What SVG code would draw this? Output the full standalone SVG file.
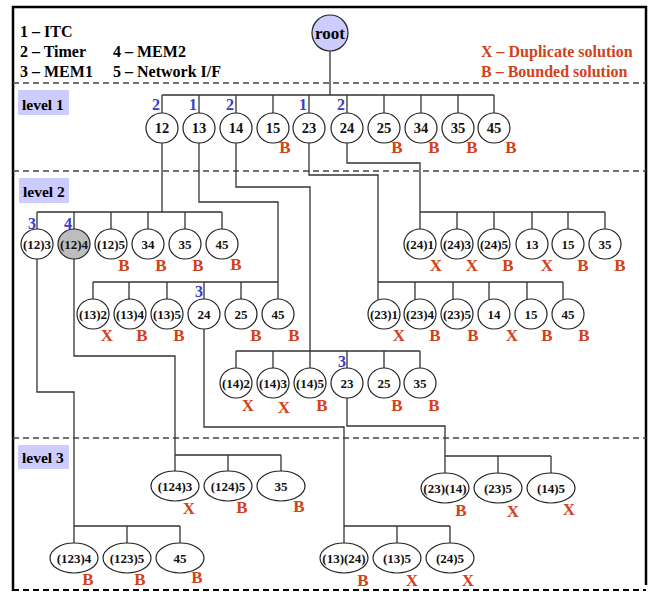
<svg xmlns="http://www.w3.org/2000/svg" width="651" height="592" viewBox="0 0 651 592">
<style>
text{font-family:"Liberation Serif","Times New Roman",serif;font-weight:bold}
.n ellipse{fill:#fff;stroke:#222;stroke-width:1.2}
.n text{font-size:13px;text-anchor:middle;fill:#111}
.n text.s{font-size:13px}
.n text.l{font-size:14.5px}
.n text.b{fill:#3a3ad0;font-size:16px;text-anchor:end}
.n text.t{fill:#d2421a;font-size:17px;text-anchor:middle}
.c path{fill:none;stroke:#333;stroke-width:1.3}
.sep{stroke:#444;stroke-width:1.4;stroke-dasharray:6,4}
.lv rect{fill:#ccccff}
.lv text{font-size:15.5px}
.lg text{font-size:16px}
.lg2 text{font-size:16px;fill:#d2421a}
</style>
<rect width="651" height="592" fill="#fff"/>
<path d="M13,591 V7 H646 V585" fill="none" stroke="#000" stroke-width="2.5"/>
<line class="sep" x1="13" y1="590" x2="646" y2="590" style="stroke:#000;stroke-width:2"/>
<line class="sep" x1="13" y1="83" x2="646" y2="83"/>
<line class="sep" x1="13" y1="171" x2="646" y2="171"/>
<line class="sep" x1="13" y1="438" x2="646" y2="438"/>

<g class="lg">
<text x="20" y="37">1 – ITC</text>
<text x="20" y="57">2 – Timer</text>
<text x="20" y="77">3 – MEM1</text>
<text x="113" y="57">4 – MEM2</text>
<text x="113" y="77">5 – Network I/F</text>
</g>
<g class="lg2">
<text x="481" y="57">X – Duplicate solution</text>
<text x="481" y="77">B – Bounded solution</text>
</g>
<g class="lv" id="level1"><rect x="18" y="90" width="51" height="25"/><text x="22" y="110">level 1</text></g>
<g class="lv" id="level2"><rect x="19" y="178" width="50" height="25"/><text x="23" y="197">level 2</text></g>
<g class="lv" id="level3"><rect x="18" y="445" width="51" height="24"/><text x="22" y="463">level 3</text></g>

<g class="c" id="connectors">
<path d="M330,51 V95 M162,95 H494 M162,95 V113 M199,95 V113 M236,95 V113 M273,95 V113 M309,95 V113 M347,95 V113 M384,95 V113 M421,95 V113 M458,95 V113 M494,95 V113"/>
<path d="M162,143 V212 M37,212 H222 M37,212 V229 M74,212 V229 M111,212 V229 M148,212 V229 M185,212 V229 M222,212 V229"/>
<path d="M199,143 V202 H278 V282 M93,282 H278 M93,282 V299 M129,282 V299 M167,282 V299 M204,282 V299 M241,282 V299 M278,282 V299"/>
<path d="M236,143 V187 H310 V351 M236,351 H420 M236,351 V368 M273,351 V368 M310,351 V368 M347,351 V368 M384,351 V368 M420,351 V368"/>
<path d="M309,143 V175 H378 V282 M378,282 H563 M378,282 V300 M415,282 V300 M453,282 V300 M489,282 V300 M527,282 V300 M563,282 V300"/>
<path d="M347,143 V163 H420 V212 M420,212 H605 M420,212 V229 M457,212 V229 M494,212 V229 M532,212 V229 M568,212 V229 M605,212 V229"/>
<path d="M37,259 V392 H74 V526 M74,526 H180 M74,526 V543 M127,526 V543 M180,526 V543"/>
<path d="M74,259 V356 H175 V455 M175,455 H281 M175,455 V471 M228,455 V471 M281,455 V471"/>
<path d="M204,329 V427 H344 V526 M344,526 H450 M344,526 V543 M397,526 V543 M450,526 V543"/>
<path d="M347,398 V426 H445 V456 M445,456 H551 M445,456 V473 M498,456 V473 M551,456 V473"/>
</g>

<g id="root"><circle cx="330" cy="33" r="18" fill="#ccccff" stroke="#222" stroke-width="1.2"/><text x="330" y="38.5" font-size="17" text-anchor="middle">root</text></g>

<!-- level 1 -->
<g class="n" id="n12"><ellipse cx="162" cy="128" rx="16" ry="15"/><text class="l" x="162" y="133">12</text><text class="b" x="160" y="110">2</text></g>
<g class="n" id="n13"><ellipse cx="199" cy="128" rx="16" ry="15"/><text class="l" x="199" y="133">13</text><text class="b" x="197" y="110">1</text></g>
<g class="n" id="n14"><ellipse cx="236" cy="128" rx="16" ry="15"/><text class="l" x="236" y="133">14</text><text class="b" x="234" y="110">2</text></g>
<g class="n" id="n15"><ellipse cx="273" cy="128" rx="16" ry="15"/><text class="l" x="273" y="133">15</text><text class="t" x="285" y="153">B</text></g>
<g class="n" id="n23"><ellipse cx="309" cy="128" rx="16" ry="15"/><text class="l" x="309" y="133">23</text><text class="b" x="307" y="110">1</text></g>
<g class="n" id="n24"><ellipse cx="347" cy="128" rx="16" ry="15"/><text class="l" x="347" y="133">24</text><text class="b" x="345" y="110">2</text></g>
<g class="n" id="n25"><ellipse cx="384" cy="128" rx="16" ry="15"/><text class="l" x="384" y="133">25</text><text class="t" x="397" y="153">B</text></g>
<g class="n" id="n34"><ellipse cx="421" cy="128" rx="16" ry="15"/><text class="l" x="421" y="133">34</text><text class="t" x="434" y="153">B</text></g>
<g class="n" id="n35"><ellipse cx="458" cy="128" rx="16" ry="15"/><text class="l" x="458" y="133">35</text><text class="t" x="472" y="153">B</text></g>
<g class="n" id="n45"><ellipse cx="494" cy="128" rx="16" ry="15"/><text class="l" x="494" y="133">45</text><text class="t" x="511" y="153">B</text></g>

<!-- level 2 row A -->
<g class="n" id="n12_3"><ellipse cx="37" cy="244" rx="16" ry="15"/><text x="37" y="248.5">(12)3</text><text class="b" x="36" y="229">3</text></g>
<g class="n" id="n12_4"><ellipse cx="74" cy="244" rx="16" ry="15" style="fill:#bdbdbd"/><text x="74" y="248.5">(12)4</text><text class="b" x="72" y="229">4</text></g>
<g class="n" id="n12_5"><ellipse cx="111" cy="244" rx="16" ry="15"/><text x="111" y="248.5">(12)5</text><text class="t" x="124" y="271">B</text></g>
<g class="n" id="n12_34"><ellipse cx="148" cy="244" rx="16" ry="15"/><text x="148" y="248.5">34</text><text class="t" x="161" y="271">B</text></g>
<g class="n" id="n12_35"><ellipse cx="185" cy="244" rx="16" ry="15"/><text x="185" y="248.5">35</text><text class="t" x="198" y="271">B</text></g>
<g class="n" id="n12_45"><ellipse cx="222" cy="244" rx="16" ry="15"/><text x="222" y="248.5">45</text><text class="t" x="236" y="270">B</text></g>

<!-- level 2 row E -->
<g class="n" id="n24_1"><ellipse cx="420" cy="244" rx="16" ry="15"/><text x="420" y="248.5">(24)1</text><text class="t" x="436" y="271">X</text></g>
<g class="n" id="n24_3"><ellipse cx="457" cy="244" rx="16" ry="15"/><text x="457" y="248.5">(24)3</text><text class="t" x="472" y="271">X</text></g>
<g class="n" id="n24_5"><ellipse cx="494" cy="244" rx="16" ry="15"/><text x="494" y="248.5">(24)5</text><text class="t" x="508" y="271">B</text></g>
<g class="n" id="n24_13"><ellipse cx="532" cy="244" rx="16" ry="15"/><text x="532" y="248.5">13</text><text class="t" x="547" y="271">X</text></g>
<g class="n" id="n24_15"><ellipse cx="568" cy="244" rx="16" ry="15"/><text x="568" y="248.5">15</text><text class="t" x="583" y="271">B</text></g>
<g class="n" id="n24_35"><ellipse cx="605" cy="244" rx="16" ry="15"/><text x="605" y="248.5">35</text><text class="t" x="620" y="271">B</text></g>

<!-- level 2 row B -->
<g class="n" id="n13_2"><ellipse cx="93" cy="314" rx="16" ry="15"/><text x="93" y="318.5">(13)2</text><text class="t" x="107" y="341">X</text></g>
<g class="n" id="n13_4"><ellipse cx="130" cy="314" rx="16" ry="15"/><text x="130" y="318.5">(13)4</text><text class="t" x="142" y="341">B</text></g>
<g class="n" id="n13_5"><ellipse cx="167" cy="314" rx="16" ry="15"/><text x="167" y="318.5">(13)5</text><text class="t" x="179" y="341">B</text></g>
<g class="n" id="n13_24"><ellipse cx="204" cy="314" rx="16" ry="15"/><text x="204" y="318.5">24</text><text class="b" x="203" y="297">3</text></g>
<g class="n" id="n13_25"><ellipse cx="241" cy="314" rx="16" ry="15"/><text x="241" y="318.5">25</text><text class="t" x="256" y="341">B</text></g>
<g class="n" id="n13_45"><ellipse cx="278" cy="314" rx="16" ry="15"/><text x="278" y="318.5">45</text><text class="t" x="294" y="341">B</text></g>

<!-- level 2 row D -->
<g class="n" id="n23_1"><ellipse cx="384" cy="314" rx="16" ry="15"/><text x="384" y="318.5">(23)1</text><text class="t" x="399" y="341">X</text></g>
<g class="n" id="n23_4"><ellipse cx="420" cy="314" rx="16" ry="15"/><text x="420" y="318.5">(23)4</text><text class="t" x="435" y="341">B</text></g>
<g class="n" id="n23_5"><ellipse cx="457" cy="314" rx="16" ry="15"/><text x="457" y="318.5">(23)5</text><text class="t" x="473" y="341">B</text></g>
<g class="n" id="n23_14"><ellipse cx="494" cy="314" rx="16" ry="15"/><text x="494" y="318.5">14</text><text class="t" x="512" y="341">X</text></g>
<g class="n" id="n23_15"><ellipse cx="531" cy="314" rx="16" ry="15"/><text x="531" y="318.5">15</text><text class="t" x="547" y="341">B</text></g>
<g class="n" id="n23_45"><ellipse cx="568" cy="314" rx="16" ry="15"/><text x="568" y="318.5">45</text><text class="t" x="584" y="341">B</text></g>

<!-- level 2 row C -->
<g class="n" id="n14_2"><ellipse cx="236" cy="383" rx="16" ry="15"/><text x="236" y="387.5">(14)2</text><text class="t" x="248" y="411">X</text></g>
<g class="n" id="n14_3"><ellipse cx="273" cy="383" rx="16" ry="15"/><text x="273" y="387.5">(14)3</text><text class="t" x="284" y="413">X</text></g>
<g class="n" id="n14_5"><ellipse cx="310" cy="383" rx="16" ry="15"/><text x="310" y="387.5">(14)5</text><text class="t" x="322" y="411">B</text></g>
<g class="n" id="n14_23"><ellipse cx="347" cy="383" rx="16" ry="15"/><text x="347" y="387.5">23</text><text class="b" x="346" y="367">3</text></g>
<g class="n" id="n14_25"><ellipse cx="384" cy="383" rx="16" ry="15"/><text x="384" y="387.5">25</text><text class="t" x="397" y="411">B</text></g>
<g class="n" id="n14_35"><ellipse cx="420" cy="383" rx="16" ry="15"/><text x="420" y="387.5">35</text><text class="t" x="434" y="411">B</text></g>

<!-- level 3 -->
<g class="n" id="n124_3"><ellipse cx="175" cy="486" rx="24" ry="15"/><text class="s" x="175" y="490.5">(124)3</text><text class="t" x="189" y="514">X</text></g>
<g class="n" id="n124_5"><ellipse cx="228" cy="486" rx="24" ry="15"/><text class="s" x="228" y="490.5">(124)5</text><text class="t" x="242" y="513">B</text></g>
<g class="n" id="n124_35"><ellipse cx="281" cy="486" rx="24" ry="15"/><text class="s" x="281" y="490.5">35</text><text class="t" x="299" y="512">B</text></g>

<g class="n" id="n123_4"><ellipse cx="74" cy="558" rx="24" ry="15"/><text class="s" x="74" y="562.5">(123)4</text><text class="t" x="88" y="585">B</text></g>
<g class="n" id="n123_5"><ellipse cx="127" cy="558" rx="24" ry="15"/><text class="s" x="127" y="562.5">(123)5</text><text class="t" x="140" y="585">B</text></g>
<g class="n" id="n123_45"><ellipse cx="180" cy="558" rx="24" ry="15"/><text class="s" x="180" y="562.5">45</text><text class="t" x="197" y="583">B</text></g>

<g class="n" id="n23_14_l3"><ellipse cx="445" cy="488" rx="24" ry="15"/><text class="s" x="445" y="492.5">(23)(14)</text><text class="t" x="461" y="516">B</text></g>
<g class="n" id="n23_5_l3"><ellipse cx="498" cy="488" rx="24" ry="15"/><text class="s" x="498" y="492.5">(23)5</text><text class="t" x="513" y="517">X</text></g>
<g class="n" id="n14_5_l3"><ellipse cx="551" cy="488" rx="24" ry="15"/><text class="s" x="551" y="492.5">(14)5</text><text class="t" x="569" y="515">X</text></g>

<g class="n" id="n13_24_l3"><ellipse cx="344" cy="558" rx="24" ry="15"/><text class="s" x="344" y="562.5">(13)(24)</text><text class="t" x="363" y="586">B</text></g>
<g class="n" id="n13_5_l3"><ellipse cx="397" cy="558" rx="24" ry="15"/><text class="s" x="397" y="562.5">(13)5</text><text class="t" x="412" y="586">X</text></g>
<g class="n" id="n24_5_l3"><ellipse cx="450" cy="558" rx="24" ry="15"/><text class="s" x="450" y="562.5">(24)5</text><text class="t" x="468" y="586">X</text></g>
</svg>
